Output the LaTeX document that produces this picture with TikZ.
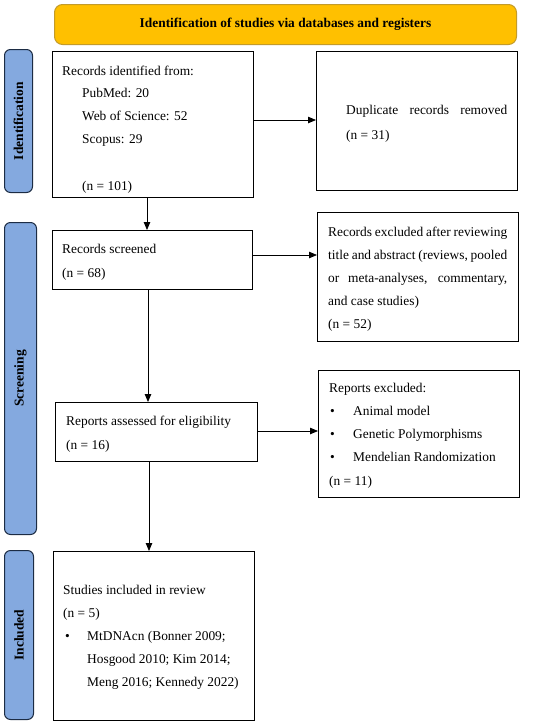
\documentclass[tikz,border=0pt]{standalone}
\usepackage{fontspec}
\setmainfont{Liberation Serif}
\usetikzlibrary{arrows.meta}
\definecolor{bannerfill}{HTML}{FFC000}
\definecolor{bannerdraw}{HTML}{C39B2A}
\definecolor{barfill}{HTML}{84A9DF}
\definecolor{bardraw}{HTML}{1C2C44}
\tikzset{
  box/.style={draw=black, line width=1.2pt, anchor=north west, inner sep=0pt},
  txt/.style={anchor=base west, inner sep=0pt, font=\fontsize{13.4}{15}\selectfont},
  bar/.style={draw=bardraw, fill=barfill, line width=1pt, rounded corners=6pt, anchor=north west, inner sep=0pt},
  barlabel/.style={rotate=90, font=\bfseries\fontsize{13.5}{15}\selectfont, inner sep=0pt},
  flow/.style={line width=0.8pt, -{Triangle[length=8pt, width=6.5pt]}},
}
\begin{document}
\begin{tikzpicture}[x=1pt, y=-1pt]
\useasboundingbox (0,0) rectangle (550,724);
% banner
\node[draw=bannerdraw, fill=bannerfill, line width=1pt, rounded corners=8pt, anchor=north west, minimum width=462pt, minimum height=40pt, inner sep=0pt, font=\bfseries\fontsize{13.4}{15}\selectfont] (banner) at (54,4) {Identification of studies via databases and registers};
% side bars
\node[bar, minimum width=28pt, minimum height=143pt] (barid) at (4,49) {};
\node[barlabel] (lblid) at (barid.center) {Identification};
\node[bar, minimum width=32pt, minimum height=312pt] (barsc) at (4,222) {};
\node[barlabel] (lblsc) at (barsc.center) {Screening};
\node[bar, minimum width=29pt, minimum height=169pt] (barin) at (4,550) {};
\node[barlabel] (lblin) at (barin.center) {Included};
% boxes
\node[box, minimum width=201pt, minimum height=146pt] (b1) at (52,51) {};
\node[txt] (t1a) at (62,75) {Records identified from:};
\node[txt] (t1b) at (82,97) {PubMed: 20};
\node[txt] (t1c) at (82,120) {Web of Science: 52};
\node[txt] (t1d) at (82,143) {Scopus: 29};
\node[txt] (t1e) at (82,190) {(n = 101)};

\node[box, minimum width=201pt, minimum height=139pt] (b2) at (316,51) {};
\node[txt] (t2a) at (346,114) {\makebox[161pt][s]{Duplicate records removed}};
\node[txt] (t2b) at (346,139) {(n = 31)};

\node[box, minimum width=200pt, minimum height=59pt] (b3) at (52,230) {};
\node[txt] (t3a) at (62,253) {Records screened};
\node[txt] (t3b) at (62,277) {(n = 68)};

\node[box, minimum width=201pt, minimum height=129pt] (b4) at (317,212) {};
\node[txt] (t4a) at (328,236) {\makebox[179pt][s]{Records excluded after reviewing}};
\node[txt] (t4b) at (328,259) {\makebox[179pt][s]{title and abstract (reviews, pooled}};
\node[txt] (t4c) at (328,282) {\makebox[179pt][s]{or meta-analyses, commentary,}};
\node[txt] (t4d) at (328,305) {and case studies)};
\node[txt] (t4e) at (328,328) {(n = 52)};

\node[box, minimum width=202pt, minimum height=59pt] (b5) at (55,402) {};
\node[txt] (t5a) at (66,425) {Reports assessed for eligibility};
\node[txt] (t5b) at (66,449) {(n = 16)};

\node[box, minimum width=201pt, minimum height=127pt] (b6) at (318,370) {};
\node[txt] (t6a) at (329,392) {Reports excluded:};
\node[txt] (t6b1) at (330,415) {\textbullet};
\node[txt] (t6b) at (353,415) {Animal model};
\node[txt] (t6c1) at (330,438) {\textbullet};
\node[txt] (t6c) at (353,438) {Genetic Polymorphisms};
\node[txt] (t6d1) at (330,461) {\textbullet};
\node[txt] (t6d) at (353,461) {Mendelian Randomization};
\node[txt] (t6e) at (329,485) {(n = 11)};

\node[box, minimum width=201pt, minimum height=169pt] (b7) at (53,551) {};
\node[txt] (t7a) at (63,594) {Studies included in review};
\node[txt] (t7b) at (63,617) {(n = 5)};
\node[txt] (t7c1) at (65,640) {\textbullet};
\node[txt] (t7c) at (87,640) {MtDNAcn (Bonner 2009;};
\node[txt] (t7d) at (87,663) {Hosgood 2010; Kim 2014;};
\node[txt] (t7e) at (87,686) {Meng 2016; Kennedy 2022)};

% arrows
\draw[flow] (b1.east |- 0,120) -- (b2.west |- 0,120);
\draw[flow] (b1.south -| 147,0) -- (b3.north -| 147,0);
\draw[flow] (b3.east |- 0,255) -- (b4.west |- 0,255);
\draw[flow] (b3.south -| 148,0) -- (b5.north -| 148,0);
\draw[flow] (b5.east |- 0,431) -- (b6.west |- 0,431);
\draw[flow] (b5.south -| 149,0) -- (b7.north -| 149,0);
\end{tikzpicture}
\end{document}
